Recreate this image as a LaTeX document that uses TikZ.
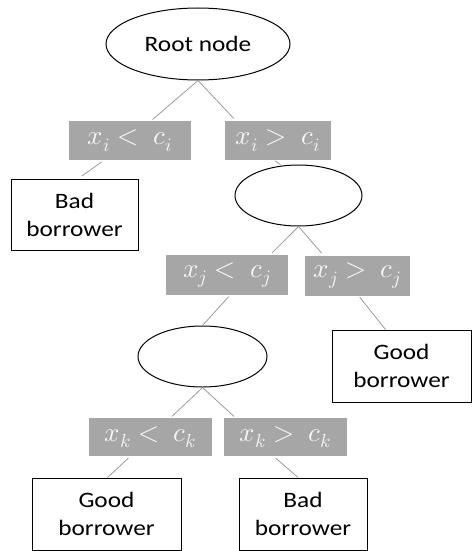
\documentclass[tikz,border=0pt]{standalone}
\usepackage{fontspec}
\usepackage{unicode-math}
\setmainfont[FakeStretch=1.15]{Carlito}
\setmathfont{Latin Modern Math}
\usetikzlibrary{positioning,calc,shapes.geometric}

\definecolor{testfill}{HTML}{A6A6A6}
\definecolor{testtext}{HTML}{F6F6F6}
\definecolor{linkgray}{HTML}{9A9A9A}

\begin{document}
\begin{tikzpicture}[
  x=1pt, y=-1pt,
  every node/.style={font=\fontsize{22}{28}\selectfont, align=center},
  split/.style={ellipse, draw, line width=1pt, inner sep=0pt},
  test/.style={fill=testfill, text=testtext, inner sep=0pt, minimum height=39pt,
    font=\fontsize{27}{30}\selectfont},
  leaf/.style={draw, line width=1pt, inner sep=0pt, minimum height=72pt},
  link/.style={draw=linkgray, line width=0.8pt}
]
\useasboundingbox (0,0) rectangle (472,551);

% splits
\node[split, minimum width=184pt, minimum height=72pt] (root) at (198,44) {Root node};
\node[split, minimum width=127pt, minimum height=61pt] (splitj) at (298.5,195.5) {};
\node[split, minimum width=129pt, minimum height=61pt] (splitk) at (202.5,356.5) {};

% tests on x
\node[test, minimum width=122pt] (ilow)  at (130,140.5) {$x_i <\ c_i$};
\node[test, minimum width=106pt] (ihigh) at (278,140.5) {$x_i >\ c_i$};
\node[test, minimum width=122pt, minimum height=40pt] (jlow)  at (227,275) {$x_j <\ c_j$};
\node[test, minimum width=105pt, minimum height=40pt] (jhigh) at (357.5,275.5) {$x_j >\ c_j$};
\node[test, minimum width=123pt, minimum height=38pt] (klow)  at (150.5,437) {$x_k <\ c_k$};
\node[test, minimum width=123pt, minimum height=38pt] (khigh) at (285.5,437) {$x_k >\ c_k$};

% leaves
\node[leaf, minimum width=127pt, minimum height=71pt] (badi) at (74.5,214.5) {Bad\\borrower};
\node[leaf, minimum width=139pt] (goodj) at (401.5,366) {Good\\borrower};
\node[leaf, minimum width=149pt] (goodk) at (106.5,514) {Good\\borrower};
\node[leaf, minimum width=128pt] (badk)  at (303,514) {Bad\\borrower};

\draw[link, shorten >=2pt] (root.south) -- ([xshift=21pt]ilow.north);
\draw[link, shorten >=3pt] (root.south) -- ([xshift=-42pt]ihigh.north);
\draw[link, shorten <=3pt, shorten >=4pt] ([xshift=-26pt]ilow.south) -- ([xshift=4pt]badi.north);
\draw[link, shorten <=1pt] ([xshift=-4pt]ihigh.south) -- ([xshift=-18pt]splitj.north);

\draw[link, shorten >=3pt] (splitj.south) -- ([xshift=43pt]jlow.north);
\draw[link, shorten >=3pt] (splitj.south) -- ([xshift=-34pt]jhigh.north);
\draw[link, shorten <=2pt] ([xshift=3pt]jlow.south) -- (splitk.north);
\draw[link, shorten <=2pt] ([xshift=1pt]jhigh.south) -- ([xshift=-16pt]goodj.north);

\draw[link, shorten >=2pt] (splitk.south) -- ([xshift=20pt]klow.north);
\draw[link, shorten >=2pt] (splitk.south) -- ([xshift=-50pt]khigh.north);
\draw[link, shorten <=3pt] ([xshift=-20pt]klow.south) -- ([xshift=1pt]goodk.north);
\draw[link, shorten <=3pt] ([xshift=-12pt]khigh.south) -- ([xshift=-5pt]badk.north);

\end{tikzpicture}
\end{document}
